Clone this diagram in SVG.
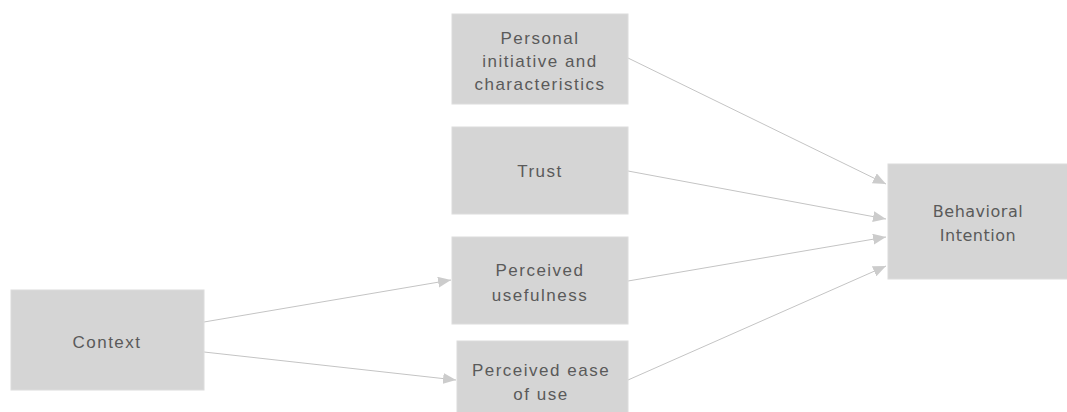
<svg xmlns="http://www.w3.org/2000/svg" width="1067" height="412" viewBox="0 0 1067 412">
  <style>
    .box { fill: #d5d5d5; stroke: #dcdcdc; stroke-width: 1; }
    .lbl { font-family: "Liberation Sans", Arial, sans-serif; font-size: 17px; fill: #5a5a5a; text-anchor: middle; letter-spacing: 1.5px; }
    .lbl2 { font-family: "DejaVu Sans", "Liberation Sans", sans-serif; font-size: 16px; fill: #5a5a5a; text-anchor: middle; letter-spacing: 0.5px; }
    .edge { stroke: #c4c4c4; stroke-width: 1; fill: none; marker-end: url(#arrow); }
  </style>
  <defs>
    <marker id="arrow" viewBox="0 0 13 11" refX="13" refY="5.5" markerWidth="13" markerHeight="11" markerUnits="userSpaceOnUse" orient="auto">
      <path d="M0,0 L13,5.5 L0,11 Z" fill="#cccccc"/>
    </marker>
  </defs>
  <rect width="1067" height="412" fill="#ffffff"/>

  <g id="connectors">
    <line class="edge" x1="628" y1="58" x2="886" y2="184"/>
    <line class="edge" x1="628" y1="171" x2="886" y2="219"/>
    <line class="edge" x1="628" y1="281" x2="886" y2="237"/>
    <line class="edge" x1="628" y1="380" x2="886" y2="266"/>
    <line class="edge" x1="204" y1="322" x2="451" y2="280"/>
    <line class="edge" x1="204" y1="352" x2="456" y2="380"/>
  </g>

  <g id="personal">
    <rect class="box" x="452" y="14" width="176" height="90"/>
    <text class="lbl" x="540" y="44">Personal</text>
    <text class="lbl" x="540" y="67">initiative and</text>
    <text class="lbl" x="540" y="90">characteristics</text>
  </g>

  <g id="trust">
    <rect class="box" x="452" y="127" width="176" height="87"/>
    <text class="lbl" x="540" y="177">Trust</text>
  </g>

  <g id="usefulness">
    <rect class="box" x="452" y="237" width="176" height="87"/>
    <text class="lbl" x="540" y="276">Perceived</text>
    <text class="lbl" x="540" y="301">usefulness</text>
  </g>

  <g id="ease">
    <rect class="box" x="457" y="341" width="171" height="75"/>
    <text class="lbl" x="541" y="376">Perceived ease</text>
    <text class="lbl" x="541" y="400">of use</text>
  </g>

  <g id="context">
    <rect class="box" x="11" y="290" width="193" height="100"/>
    <text class="lbl" x="107" y="348">Context</text>
  </g>

  <g id="behavioral">
    <rect class="box" x="888" y="164" width="183" height="115"/>
    <text class="lbl2" x="978" y="217">Behavioral</text>
    <text class="lbl2" x="978" y="241">Intention</text>
  </g>
</svg>
